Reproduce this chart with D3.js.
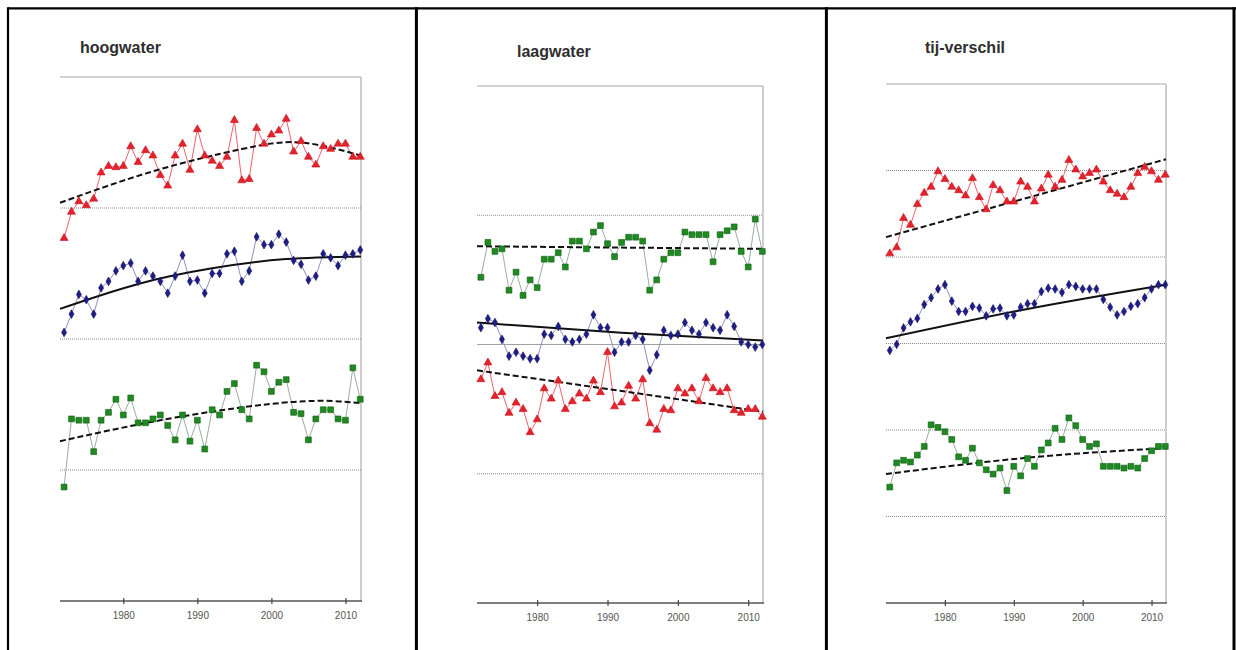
<!DOCTYPE html>
<html>
<head>
<meta charset="utf-8">
<script src="https://cdn.jsdelivr.net/npm/d3@7"></script>
<style>
  html, body { margin: 0; padding: 0; background: #fff; }
  svg { display: block; font-family: "Liberation Sans", Arial, sans-serif; }
</style>
</head>
<body>
<svg id="chart" width="1236" height="650"></svg>
<script>
// Years on the x axis (one observation per year)
const years = d3.range(1972, 2013);
const xTicks = [1980, 1990, 2000, 2010];
const xTickLabels = ["1980", "1990", "2000", "2010"];
const panelTitles = ["hoogwater", "laagwater", "tij-verschil"];

// hoogwater series
const hoogRed = [27.7, 29.7, 30.5, 30.2, 30.7, 32.7, 33.2, 33.1, 33.2, 34.7, 33.5, 34.4, 34.0, 32.5, 31.7, 34.0, 34.9, 32.9, 36.0, 34.0, 33.6, 33.2, 33.9, 36.7, 32.1, 32.2, 36.1, 34.9, 35.6, 35.9, 36.8, 34.3, 35.1, 33.9, 33.3, 34.7, 34.5, 34.9, 34.9, 33.9, 33.9];
const hoogBlue = [20.5, 21.9, 23.4, 23.0, 21.9, 23.9, 24.4, 25.2, 25.6, 25.8, 24.4, 25.2, 24.8, 24.4, 23.5, 24.8, 26.4, 24.4, 24.5, 23.5, 25.0, 25.0, 26.5, 26.7, 24.4, 25.2, 27.8, 27.2, 27.2, 28.0, 27.4, 26.0, 25.7, 24.5, 24.8, 26.5, 26.2, 25.6, 26.4, 26.5, 26.8];
const hoogGreen = [8.7, 13.9, 13.8, 13.8, 11.4, 13.8, 14.4, 15.4, 14.2, 15.5, 13.6, 13.6, 13.9, 14.2, 13.4, 12.3, 14.2, 12.2, 13.8, 11.6, 14.6, 14.2, 16.0, 16.6, 14.6, 13.9, 18.0, 17.5, 16.0, 16.7, 16.9, 14.4, 14.3, 12.3, 13.9, 14.6, 14.6, 13.9, 13.8, 17.8, 15.4];
const hoogRedTrend = [[1971.45, 30.4], [1984, 32.8], [1996, 34.5], [2004, 35.0], [2012.1, 34.0]];
const hoogBlueTrend = [[1971.45, 22.3], [1982, 24.2], [1992, 25.4], [2002, 26.1], [2012.1, 26.3]];
const hoogGreenTrend = [[1971.45, 12.2], [1987, 14.0], [2003, 15.2], [2012.1, 15.1]];

// laagwater series
const laagGreen = [25.2, 27.9, 27.2, 27.4, 24.2, 25.6, 23.8, 25.0, 24.4, 26.6, 26.6, 27.1, 26.0, 28.0, 28.0, 27.4, 28.7, 29.2, 27.8, 26.8, 27.9, 28.3, 28.3, 28.0, 24.2, 25.0, 26.6, 27.1, 27.1, 28.7, 28.5, 28.5, 28.5, 26.4, 28.5, 28.8, 29.1, 27.2, 26.0, 29.7, 27.2];
const laagBlue = [21.3, 22.0, 21.7, 20.4, 19.1, 19.4, 19.1, 18.9, 18.9, 20.8, 20.7, 21.4, 20.4, 20.2, 20.4, 20.8, 22.3, 21.3, 21.3, 19.4, 20.2, 20.2, 20.7, 20.4, 18.0, 19.2, 21.1, 20.7, 20.8, 21.7, 21.1, 20.8, 21.7, 21.3, 21.1, 22.3, 21.4, 20.2, 20.0, 19.8, 20.0];
const laagRed = [17.3, 18.6, 16.0, 16.3, 14.7, 15.5, 15.0, 13.2, 14.2, 16.6, 15.8, 17.2, 15.0, 15.6, 16.2, 15.8, 17.2, 16.3, 19.4, 15.2, 15.5, 16.8, 15.8, 17.3, 13.9, 13.4, 15.0, 14.9, 16.6, 16.2, 16.6, 15.6, 17.4, 16.6, 16.3, 16.6, 14.9, 14.7, 15.0, 15.0, 14.4];
const laagGreenTrend = [[1971.45, 27.6], [2012.1, 27.4]];
const laagBlueTrend = [[1971.45, 21.7], [1992, 20.9], [2012.1, 20.3]];
const laagRedTrend = [[1971.45, 18.0], [1992, 16.4], [2012.1, 14.8]];

// tij-verschil series
const tijRed = [40.4, 41.1, 44.5, 43.7, 46.1, 47.4, 48.1, 49.9, 49.0, 48.1, 47.7, 47.1, 49.1, 46.9, 45.5, 48.3, 47.7, 46.4, 46.4, 48.7, 48.1, 46.4, 47.9, 49.5, 48.1, 48.9, 51.2, 50.1, 49.3, 49.7, 50.1, 48.7, 47.7, 47.3, 46.9, 48.1, 49.7, 50.4, 49.9, 48.9, 49.5];
const tijBlue = [29.2, 29.9, 31.8, 32.5, 32.9, 34.5, 35.3, 36.3, 36.8, 34.9, 33.7, 33.7, 34.3, 34.1, 33.2, 34.0, 34.1, 33.2, 33.3, 34.2, 34.6, 34.6, 36.0, 36.4, 36.3, 35.9, 36.8, 36.6, 36.3, 36.3, 36.3, 35.1, 34.2, 33.3, 33.7, 34.3, 34.6, 35.3, 36.3, 36.8, 36.8];
const tijGreen = [13.4, 16.2, 16.5, 16.3, 17.1, 18.1, 20.6, 20.3, 19.8, 18.9, 16.9, 16.5, 17.9, 16.2, 15.4, 14.9, 15.6, 13.0, 15.8, 14.7, 16.7, 15.8, 17.7, 18.5, 20.2, 18.9, 21.4, 20.5, 18.9, 18.1, 18.4, 15.8, 15.8, 15.8, 15.6, 15.8, 15.6, 16.7, 17.6, 18.1, 18.1];
const tijRedTrend = [[1971.45, 42.3], [2012.1, 51.3]];
const tijBlueTrend = [[1971.45, 30.6], [1992, 34.0], [2012.1, 36.8]];
const tijGreenTrend = [[1971.45, 14.9], [1992, 16.8], [2012.1, 17.9]];

// Styling per series kind
const styles = {
  red:   { symbol: d3.symbolTriangle, size: 28, fill: "#e5222c", stroke: "#c4121c", line: "#f0606c" },
  blue:  { symbol: d3.symbolDiamond,  size: 22, fill: "#1d1d84", stroke: "#14146a", line: "#8f8fbf" },
  green: { symbol: d3.symbolSquare,   size: 34, fill: "#1f8a22", stroke: "#0f5e12", line: "#9aae9a" }
};

const panels = [
  {
    title: panelTitles[0], titleX: 80, titleY: 53,
    left: 60, right: 361, top: 77, bottom: 601, yMax: 40,
    grid: [{ v: 10, dot: true }, { v: 20, dot: true }, { v: 30, dot: true }],
    series: [
      { kind: "red", values: hoogRed, trend: hoogRedTrend, dashed: true },
      { kind: "blue", values: hoogBlue, trend: hoogBlueTrend, dashed: false },
      { kind: "green", values: hoogGreen, trend: hoogGreenTrend, dashed: true }
    ]
  },
  {
    title: panelTitles[1], titleX: 517, titleY: 57,
    left: 477, right: 763, top: 86, bottom: 603, yMax: 40,
    grid: [{ v: 10, dot: true }, { v: 20, dot: false }, { v: 30, dot: true }],
    series: [
      { kind: "green", values: laagGreen, trend: laagGreenTrend, dashed: true },
      { kind: "blue", values: laagBlue, trend: laagBlueTrend, dashed: false },
      { kind: "red", values: laagRed, trend: laagRedTrend, dashed: true }
    ]
  },
  {
    title: panelTitles[2], titleX: 925, titleY: 53,
    left: 886, right: 1166, top: 84, bottom: 603, yMax: 60,
    grid: [10, 20, 30, 40, 50].map(v => ({ v, dot: true })),
    series: [
      { kind: "red", values: tijRed, trend: tijRedTrend, dashed: true },
      { kind: "blue", values: tijBlue, trend: tijBlueTrend, dashed: false },
      { kind: "green", values: tijGreen, trend: tijGreenTrend, dashed: true }
    ]
  }
];

const svg = d3.select("#chart");

// Table frame around the three panels
const frame = svg.append("g").attr("stroke", "#000").attr("fill", "none");
frame.append("line").attr("x1", 8).attr("x2", 1236).attr("y1", 8.3).attr("y2", 8.3).attr("stroke-width", 2.2);
[8, 416.4, 826.4, 1234].forEach(x => {
  frame.append("line").attr("x1", x).attr("x2", x).attr("y1", 7.2).attr("y2", 650)
    .attr("stroke-width", x === 8 ? 2.2 : 3);
});

panels.forEach(p => {
  const g = svg.append("g");
  const x = d3.scaleLinear().domain([1971.45, 2012.1]).range([p.left, p.right]);
  const y = d3.scaleLinear().domain([0, p.yMax]).range([p.bottom, p.top]);

  // title
  g.append("text")
    .attr("x", p.titleX).attr("y", p.titleY)
    .attr("font-size", 16).attr("font-weight", "bold").attr("fill", "#2e2e2e")
    .text(p.title);

  // plot frame: top and right edges
  g.append("line").attr("x1", p.left).attr("x2", p.right)
    .attr("y1", y(p.yMax)).attr("y2", y(p.yMax))
    .attr("stroke", "#c4c4c4").attr("stroke-width", 1.5);
  g.append("line").attr("x1", p.right).attr("x2", p.right)
    .attr("y1", y(p.yMax)).attr("y2", y(0))
    .attr("stroke", "#bdbdbd").attr("stroke-width", 1.5);

  // horizontal grid lines
  g.selectAll(".grid").data(p.grid).join("line")
    .attr("x1", p.left).attr("x2", p.right)
    .attr("y1", d => y(d.v)).attr("y2", d => y(d.v))
    .attr("stroke", d => d.dot ? "#8a8a8a" : "#a0a0a0")
    .attr("stroke-width", 1)
    .attr("stroke-dasharray", d => d.dot ? "1,1" : null);

  // x axis
  const axis = d3.axisBottom(x)
    .tickValues(xTicks)
    .tickFormat((d, i) => xTickLabels[i])
    .tickSizeInner(3).tickSizeOuter(0).tickPadding(8);
  const ax = g.append("g").attr("transform", `translate(0,${y(0)})`).call(axis);
  ax.select(".domain").attr("stroke", "#555").attr("stroke-width", 1.3)
    .attr("d", `M${p.left},0H${p.right + 1}`);
  ax.selectAll(".tick line").attr("y1", -3).attr("y2", 3).attr("stroke", "#444").attr("stroke-width", 1.2);
  ax.selectAll(".tick text").attr("fill", "#555").attr("font-size", 10)
    .attr("font-family", "'Liberation Sans', Arial, sans-serif");

  p.series.forEach(s => {
    const st = styles[s.kind];
    const pts = years.map((yr, i) => [yr, s.values[i]]);

    // connecting line
    g.append("path").datum(pts)
      .attr("fill", "none").attr("stroke", st.line).attr("stroke-width", 1)
      .attr("d", d3.line().x(d => x(d[0])).y(d => y(d[1])));

    // trend line
    g.append("path").datum(s.trend)
      .attr("fill", "none").attr("stroke", "#111").attr("stroke-width", 2)
      .attr("stroke-dasharray", s.dashed ? "6,3" : null)
      .attr("d", d3.line().x(d => x(d[0])).y(d => y(d[1])).curve(d3.curveNatural));

    // markers
    g.selectAll(null).data(pts).join("path")
      .attr("transform", d => `translate(${x(d[0])},${y(d[1])})`)
      .attr("d", d3.symbol().type(st.symbol).size(st.size))
      .attr("fill", st.fill).attr("stroke", st.stroke).attr("stroke-width", 0.6);
  });
});
</script>
</body>
</html>
